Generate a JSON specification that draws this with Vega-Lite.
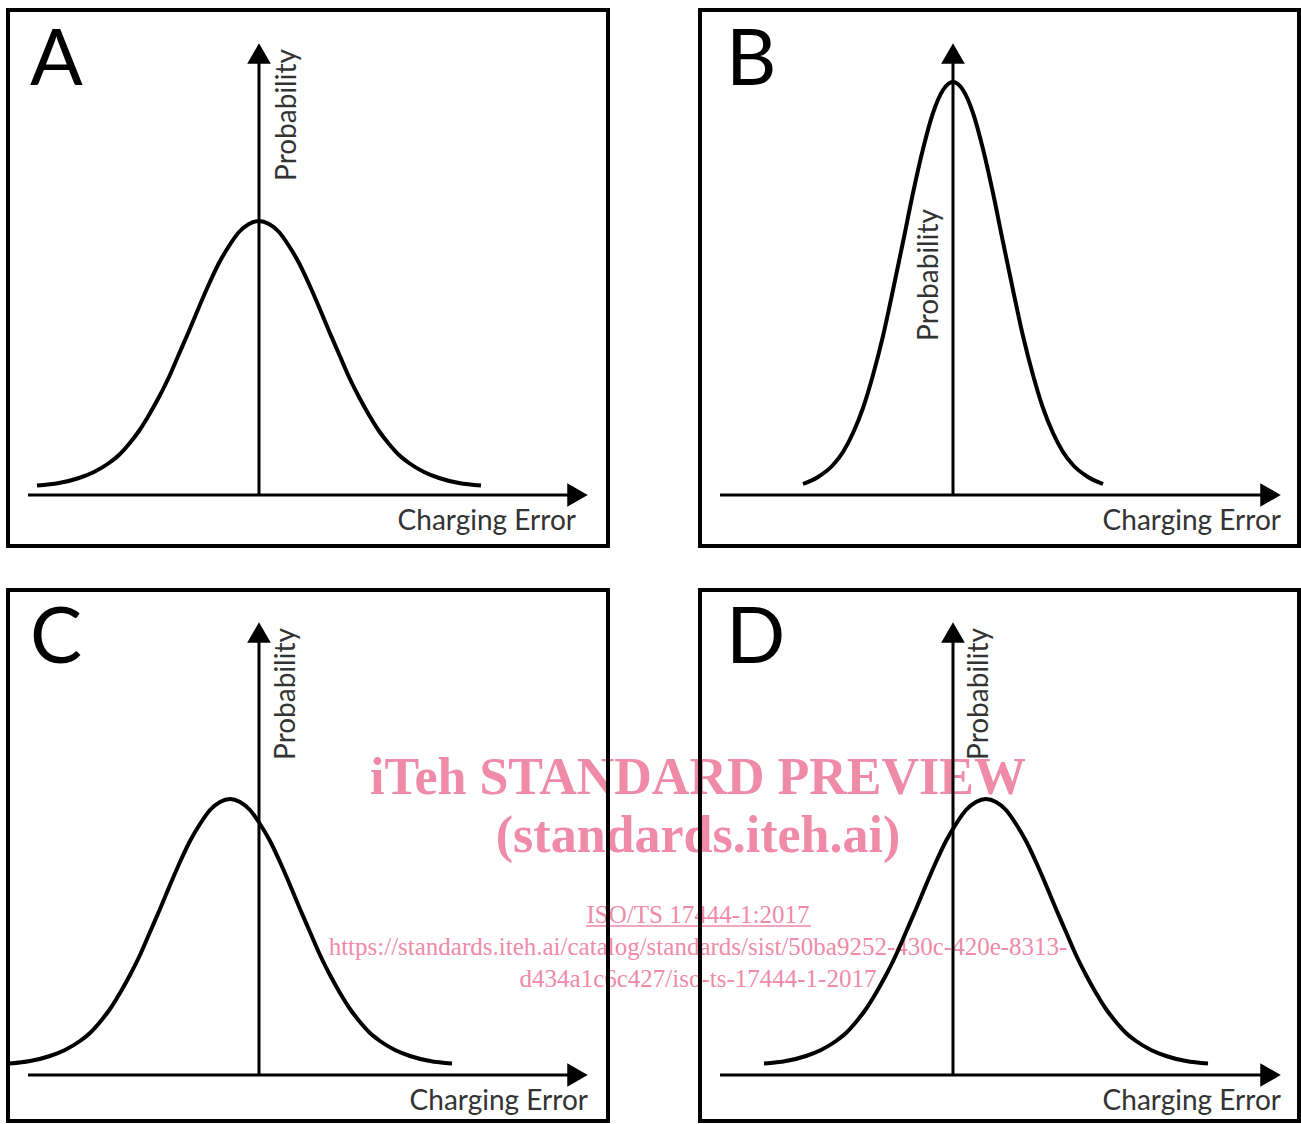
{
  "$schema": "https://vega.github.io/schema/vega-lite/v6.json",
  "width": 1301,
  "height": 1124,
  "autosize": {"type": "fit", "contains": "padding"},
  "padding": 0,
  "background": "#ffffff",
  "config": {"view": {"stroke": null}},
  "datasets": {
    "wmTitle": [
      {"x": 698, "y": 794, "label": "iTeh STANDARD PREVIEW"},
      {"x": 698, "y": 852, "label": "(standards.iteh.ai)"}
    ],
    "wmLink": [
      {"x": 698, "y": 923, "label": "ISO/TS 17444-1:2017"},
      {"x": 698, "y": 955, "label": "https://standards.iteh.ai/catalog/standards/sist/50ba9252-430c-420e-8313-"},
      {"x": 698, "y": 987, "label": "d434a1c6c427/iso-ts-17444-1-2017"}
    ],
    "underline": [
      {"x": 586, "x2": 811, "y": 926, "y2": 926}
    ],
    "boxes": [
      {"panel": "A", "x": 8, "x2": 608, "y": 10, "y2": 546},
      {"panel": "B", "x": 700, "x2": 1299, "y": 10, "y2": 546},
      {"panel": "C", "x": 8, "x2": 608, "y": 590, "y2": 1121},
      {"panel": "D", "x": 700, "x2": 1299, "y": 590, "y2": 1121}
    ],
    "axes": [
      {"panel": "A", "x": 28, "x2": 570, "y": 495, "y2": 495},
      {"panel": "A", "x": 259, "x2": 259, "y": 495, "y2": 62},
      {"panel": "B", "x": 720, "x2": 1263, "y": 495, "y2": 495},
      {"panel": "B", "x": 953, "x2": 953, "y": 495, "y2": 62},
      {"panel": "C", "x": 28, "x2": 570, "y": 1075, "y2": 1075},
      {"panel": "C", "x": 259, "x2": 259, "y": 1075, "y2": 641},
      {"panel": "D", "x": 720, "x2": 1263, "y": 1075, "y2": 1075},
      {"panel": "D", "x": 953, "x2": 953, "y": 1075, "y2": 641}
    ],
    "arrows": [
      {"panel": "A", "x": 577.5, "y": 495, "dir": "right"},
      {"panel": "A", "x": 259, "y": 53.5, "dir": "up"},
      {"panel": "B", "x": 1270.5, "y": 495, "dir": "right"},
      {"panel": "B", "x": 953, "y": 53.5, "dir": "up"},
      {"panel": "C", "x": 577.5, "y": 1075, "dir": "right"},
      {"panel": "C", "x": 259, "y": 632.5, "dir": "up"},
      {"panel": "D", "x": 1270.5, "y": 1075, "dir": "right"},
      {"panel": "D", "x": 953, "y": 632.5, "dir": "up"}
    ],
    "curves": [
      {"panel": "A", "x": 37, "y": 485.5}, {"panel": "A", "x": 59, "y": 483}, {"panel": "A", "x": 79, "y": 478}, {"panel": "A", "x": 94, "y": 472},
      {"panel": "A", "x": 109, "y": 463}, {"panel": "A", "x": 119, "y": 455}, {"panel": "A", "x": 129, "y": 444}, {"panel": "A", "x": 139, "y": 431},
      {"panel": "A", "x": 149, "y": 415}, {"panel": "A", "x": 159, "y": 397}, {"panel": "A", "x": 169, "y": 377}, {"panel": "A", "x": 179, "y": 354},
      {"panel": "A", "x": 189, "y": 331}, {"panel": "A", "x": 199, "y": 307}, {"panel": "A", "x": 209, "y": 284}, {"panel": "A", "x": 219, "y": 263},
      {"panel": "A", "x": 229, "y": 246}, {"panel": "A", "x": 239, "y": 232}, {"panel": "A", "x": 249, "y": 224}, {"panel": "A", "x": 259, "y": 221},
      {"panel": "A", "x": 269, "y": 224}, {"panel": "A", "x": 279, "y": 232}, {"panel": "A", "x": 289, "y": 246}, {"panel": "A", "x": 299, "y": 263},
      {"panel": "A", "x": 309, "y": 284}, {"panel": "A", "x": 319, "y": 307}, {"panel": "A", "x": 329, "y": 331}, {"panel": "A", "x": 339, "y": 354},
      {"panel": "A", "x": 349, "y": 377}, {"panel": "A", "x": 359, "y": 397}, {"panel": "A", "x": 369, "y": 415}, {"panel": "A", "x": 379, "y": 431},
      {"panel": "A", "x": 389, "y": 444}, {"panel": "A", "x": 399, "y": 455}, {"panel": "A", "x": 409, "y": 463}, {"panel": "A", "x": 424, "y": 472},
      {"panel": "A", "x": 439, "y": 478}, {"panel": "A", "x": 459, "y": 483}, {"panel": "A", "x": 481, "y": 485.5},

      {"panel": "B", "x": 803, "y": 484}, {"panel": "B", "x": 818, "y": 477}, {"panel": "B", "x": 833, "y": 465}, {"panel": "B", "x": 843, "y": 452},
      {"panel": "B", "x": 853, "y": 433}, {"panel": "B", "x": 863, "y": 408}, {"panel": "B", "x": 873, "y": 375}, {"panel": "B", "x": 883, "y": 336},
      {"panel": "B", "x": 893, "y": 290}, {"panel": "B", "x": 903, "y": 242}, {"panel": "B", "x": 913, "y": 193}, {"panel": "B", "x": 923, "y": 149},
      {"panel": "B", "x": 933, "y": 113}, {"panel": "B", "x": 943, "y": 90}, {"panel": "B", "x": 953, "y": 82}, {"panel": "B", "x": 963, "y": 90},
      {"panel": "B", "x": 973, "y": 113}, {"panel": "B", "x": 983, "y": 149}, {"panel": "B", "x": 993, "y": 193}, {"panel": "B", "x": 1003, "y": 242},
      {"panel": "B", "x": 1013, "y": 290}, {"panel": "B", "x": 1023, "y": 336}, {"panel": "B", "x": 1033, "y": 375}, {"panel": "B", "x": 1043, "y": 408},
      {"panel": "B", "x": 1053, "y": 433}, {"panel": "B", "x": 1063, "y": 452}, {"panel": "B", "x": 1073, "y": 465}, {"panel": "B", "x": 1088, "y": 477},
      {"panel": "B", "x": 1103, "y": 484},

      {"panel": "C", "x": 10, "y": 1063.5}, {"panel": "C", "x": 30, "y": 1061}, {"panel": "C", "x": 50, "y": 1056}, {"panel": "C", "x": 65, "y": 1050},
      {"panel": "C", "x": 80, "y": 1041}, {"panel": "C", "x": 90, "y": 1033}, {"panel": "C", "x": 100, "y": 1022}, {"panel": "C", "x": 110, "y": 1009},
      {"panel": "C", "x": 120, "y": 993}, {"panel": "C", "x": 130, "y": 975}, {"panel": "C", "x": 140, "y": 955}, {"panel": "C", "x": 150, "y": 932},
      {"panel": "C", "x": 160, "y": 909}, {"panel": "C", "x": 170, "y": 885}, {"panel": "C", "x": 180, "y": 862}, {"panel": "C", "x": 190, "y": 841},
      {"panel": "C", "x": 200, "y": 824}, {"panel": "C", "x": 210, "y": 810}, {"panel": "C", "x": 220, "y": 802}, {"panel": "C", "x": 230, "y": 799},
      {"panel": "C", "x": 240, "y": 802}, {"panel": "C", "x": 250, "y": 810}, {"panel": "C", "x": 260, "y": 824}, {"panel": "C", "x": 270, "y": 841},
      {"panel": "C", "x": 280, "y": 862}, {"panel": "C", "x": 290, "y": 885}, {"panel": "C", "x": 300, "y": 909}, {"panel": "C", "x": 310, "y": 932},
      {"panel": "C", "x": 320, "y": 955}, {"panel": "C", "x": 330, "y": 975}, {"panel": "C", "x": 340, "y": 993}, {"panel": "C", "x": 350, "y": 1009},
      {"panel": "C", "x": 360, "y": 1022}, {"panel": "C", "x": 370, "y": 1033}, {"panel": "C", "x": 380, "y": 1041}, {"panel": "C", "x": 395, "y": 1050},
      {"panel": "C", "x": 410, "y": 1056}, {"panel": "C", "x": 430, "y": 1061}, {"panel": "C", "x": 452, "y": 1063.5},

      {"panel": "D", "x": 764, "y": 1063.5}, {"panel": "D", "x": 786, "y": 1061}, {"panel": "D", "x": 806, "y": 1056}, {"panel": "D", "x": 821, "y": 1050},
      {"panel": "D", "x": 836, "y": 1041}, {"panel": "D", "x": 846, "y": 1033}, {"panel": "D", "x": 856, "y": 1022}, {"panel": "D", "x": 866, "y": 1009},
      {"panel": "D", "x": 876, "y": 993}, {"panel": "D", "x": 886, "y": 975}, {"panel": "D", "x": 896, "y": 955}, {"panel": "D", "x": 906, "y": 932},
      {"panel": "D", "x": 916, "y": 909}, {"panel": "D", "x": 926, "y": 885}, {"panel": "D", "x": 936, "y": 862}, {"panel": "D", "x": 946, "y": 841},
      {"panel": "D", "x": 956, "y": 824}, {"panel": "D", "x": 966, "y": 810}, {"panel": "D", "x": 976, "y": 802}, {"panel": "D", "x": 986, "y": 799},
      {"panel": "D", "x": 996, "y": 802}, {"panel": "D", "x": 1006, "y": 810}, {"panel": "D", "x": 1016, "y": 824}, {"panel": "D", "x": 1026, "y": 841},
      {"panel": "D", "x": 1036, "y": 862}, {"panel": "D", "x": 1046, "y": 885}, {"panel": "D", "x": 1056, "y": 909}, {"panel": "D", "x": 1066, "y": 932},
      {"panel": "D", "x": 1076, "y": 955}, {"panel": "D", "x": 1086, "y": 975}, {"panel": "D", "x": 1096, "y": 993}, {"panel": "D", "x": 1106, "y": 1009},
      {"panel": "D", "x": 1116, "y": 1022}, {"panel": "D", "x": 1126, "y": 1033}, {"panel": "D", "x": 1136, "y": 1041}, {"panel": "D", "x": 1151, "y": 1050},
      {"panel": "D", "x": 1166, "y": 1056}, {"panel": "D", "x": 1186, "y": 1061}, {"panel": "D", "x": 1208, "y": 1063.5}
    ],
    "letters": [
      {"x": 30, "y": 85, "label": "A"},
      {"x": 726, "y": 85, "label": "B"},
      {"x": 30, "y": 663, "label": "C"},
      {"x": 726, "y": 663, "label": "D"}
    ],
    "ylabels": [
      {"panel": "A", "x": 288, "y": 115, "label": "Probability"},
      {"panel": "B", "x": 930, "y": 275, "label": "Probability"},
      {"panel": "C", "x": 287, "y": 694, "label": "Probability"},
      {"panel": "D", "x": 980, "y": 694, "label": "Probability"}
    ],
    "xlabels": [
      {"panel": "A", "x": 576, "y": 530, "label": "Charging Error"},
      {"panel": "B", "x": 1281, "y": 530, "label": "Charging Error"},
      {"panel": "C", "x": 588, "y": 1110, "label": "Charging Error"},
      {"panel": "D", "x": 1281, "y": 1110, "label": "Charging Error"}
    ]
  },
  "layer": [
    {
      "data": {"name": "wmTitle"},
      "mark": {"type": "text", "font": "Liberation Serif", "fontWeight": "bold", "fontSize": 52, "align": "center", "baseline": "alphabetic", "color": "#ef8aa9"},
      "encoding": {
        "x": {"field": "x", "type": "quantitative", "scale": {"domain": [0, 1301], "nice": false, "zero": false}, "axis": null},
        "y": {"field": "y", "type": "quantitative", "scale": {"domain": [0, 1124], "reverse": true, "nice": false, "zero": false}, "axis": null},
        "text": {"field": "label"}
      }
    },
    {
      "data": {"name": "wmLink"},
      "mark": {"type": "text", "font": "Liberation Serif", "fontSize": 25, "align": "center", "baseline": "alphabetic", "color": "#ef8aa9"},
      "encoding": {
        "x": {"field": "x", "type": "quantitative", "scale": {"domain": [0, 1301], "nice": false, "zero": false}, "axis": null},
        "y": {"field": "y", "type": "quantitative", "scale": {"domain": [0, 1124], "reverse": true, "nice": false, "zero": false}, "axis": null},
        "text": {"field": "label"}
      }
    },
    {
      "data": {"name": "underline"},
      "mark": {"type": "rule", "color": "#ef8aa9", "strokeWidth": 1.5},
      "encoding": {
        "x": {"field": "x", "type": "quantitative", "scale": {"domain": [0, 1301], "nice": false, "zero": false}, "axis": null},
        "x2": {"field": "x2"},
        "y": {"field": "y", "type": "quantitative", "scale": {"domain": [0, 1124], "reverse": true, "nice": false, "zero": false}, "axis": null},
        "y2": {"field": "y2"}
      }
    },
    {
      "data": {"name": "boxes"},
      "mark": {"type": "rect", "filled": false, "color": "#000000", "strokeWidth": 4},
      "encoding": {
        "x": {"field": "x", "type": "quantitative", "scale": {"domain": [0, 1301], "nice": false, "zero": false}, "axis": null},
        "x2": {"field": "x2"},
        "y": {"field": "y", "type": "quantitative", "scale": {"domain": [0, 1124], "reverse": true, "nice": false, "zero": false}, "axis": null},
        "y2": {"field": "y2"}
      }
    },
    {
      "data": {"name": "axes"},
      "mark": {"type": "rule", "color": "#000000", "strokeWidth": 3},
      "encoding": {
        "x": {"field": "x", "type": "quantitative", "scale": {"domain": [0, 1301], "nice": false, "zero": false}, "axis": null},
        "x2": {"field": "x2"},
        "y": {"field": "y", "type": "quantitative", "scale": {"domain": [0, 1124], "reverse": true, "nice": false, "zero": false}, "axis": null},
        "y2": {"field": "y2"}
      }
    },
    {
      "data": {"name": "arrows"},
      "mark": {"type": "point", "filled": true, "color": "#000000", "opacity": 1, "size": 560},
      "encoding": {
        "x": {"field": "x", "type": "quantitative", "scale": {"domain": [0, 1301], "nice": false, "zero": false}, "axis": null},
        "y": {"field": "y", "type": "quantitative", "scale": {"domain": [0, 1124], "reverse": true, "nice": false, "zero": false}, "axis": null},
        "shape": {"field": "dir", "type": "nominal", "scale": {"domain": ["right", "up"], "range": ["triangle-right", "triangle-up"]}, "legend": null}
      }
    },
    {
      "data": {"name": "curves"},
      "mark": {"type": "line", "color": "#000000", "strokeWidth": 4, "interpolate": "monotone"},
      "encoding": {
        "x": {"field": "x", "type": "quantitative", "scale": {"domain": [0, 1301], "nice": false, "zero": false}, "axis": null},
        "y": {"field": "y", "type": "quantitative", "scale": {"domain": [0, 1124], "reverse": true, "nice": false, "zero": false}, "axis": null},
        "detail": {"field": "panel", "type": "nominal"}
      }
    },
    {
      "data": {"name": "letters"},
      "mark": {"type": "text", "font": "Lato", "fontSize": 78, "align": "left", "baseline": "alphabetic", "color": "#000000"},
      "encoding": {
        "x": {"field": "x", "type": "quantitative", "scale": {"domain": [0, 1301], "nice": false, "zero": false}, "axis": null},
        "y": {"field": "y", "type": "quantitative", "scale": {"domain": [0, 1124], "reverse": true, "nice": false, "zero": false}, "axis": null},
        "text": {"field": "label"}
      }
    },
    {
      "data": {"name": "ylabels"},
      "mark": {"type": "text", "font": "Lato", "fontSize": 28, "align": "center", "baseline": "middle", "angle": 270, "color": "#333333"},
      "encoding": {
        "x": {"field": "x", "type": "quantitative", "scale": {"domain": [0, 1301], "nice": false, "zero": false}, "axis": null},
        "y": {"field": "y", "type": "quantitative", "scale": {"domain": [0, 1124], "reverse": true, "nice": false, "zero": false}, "axis": null},
        "text": {"field": "label"}
      }
    },
    {
      "data": {"name": "xlabels"},
      "mark": {"type": "text", "font": "Lato", "fontSize": 28, "align": "right", "baseline": "alphabetic", "color": "#333333"},
      "encoding": {
        "x": {"field": "x", "type": "quantitative", "scale": {"domain": [0, 1301], "nice": false, "zero": false}, "axis": null},
        "y": {"field": "y", "type": "quantitative", "scale": {"domain": [0, 1124], "reverse": true, "nice": false, "zero": false}, "axis": null},
        "text": {"field": "label"}
      }
    }
  ]
}
